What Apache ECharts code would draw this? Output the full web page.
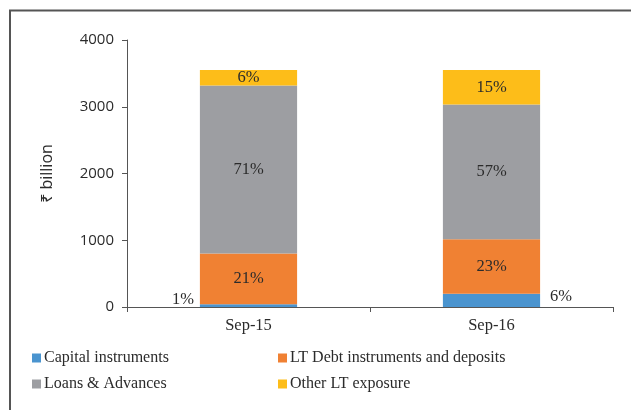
<!DOCTYPE html>
<html>
<head>
<meta charset="utf-8">
<script src="https://cdn.jsdelivr.net/npm/echarts@6/dist/echarts.min.js"></script>
<style>
  html, body { margin: 0; padding: 0; background: #fff; }
  #chart { width: 631px; height: 410px; }
</style>
</head>
<body>
<div id="chart"></div>
<script>
// 数据
const categories = ['Sep-15', 'Sep-16'];
const seriesNames = ['Capital instruments', 'LT Debt instruments and deposits', 'Loans & Advances', 'Other LT exposure'];
const capitalValues = [40, 200];
const ltDebtValues = [760, 814];
const loansValues = [2520, 2020];
const otherValues = [230, 516];
const capitalShares = ['1%', '6%'];
const ltDebtShares = ['21%', '23%'];
const loansShares = ['71%', '57%'];
const otherShares = ['6%', '15%'];
const yTicks = [0, 1000, 2000, 3000, 4000];

const colors = ['#4a94cf', '#f08133', '#9d9ea2', '#fdbd19'];
const serif = '"Liberation Serif", "DejaVu Serif", serif';
const sans = '"Open Sans", "Noto Sans", sans-serif';

const chart = echarts.init(document.getElementById('chart'));

function makeSeries(idx, values, shares, capLabel) {
  return {
    name: seriesNames[idx],
    type: 'bar',
    stack: 'total',
    barWidth: '40%',
    itemStyle: { color: colors[idx] },
    data: values.map((v, i) => {
      const lbl = {
        show: true,
        formatter: shares[i],
        color: '#2b2b2b',
        fontFamily: serif,
        fontSize: 16.5
      };
      if (capLabel) {
        lbl.position = i === 0 ? 'left' : 'right';
        lbl.distance = i === 0 ? 6 : 10;
        lbl.offset = i === 0 ? [0, -6] : [0, -4];
      } else {
        lbl.position = 'inside';
      }
      return { value: v, label: lbl };
    })
  };
}

const legendText = { fontFamily: serif, fontSize: 16, color: '#2b2b2b', padding: [0, 0, 0, -2] };

const option = {
  animation: false,
  backgroundColor: '#fff',
  graphic: [
    {
      type: 'polyline',
      shape: { points: [[10, 410], [10, 10.5], [631, 10.5]] },
      style: { stroke: '#555', lineWidth: 2, fill: null }
    }
  ],
  grid: { left: 127, right: 18, top: 40, bottom: 103 },
  legend: [
    {
      data: [seriesNames[0], seriesNames[2]],
      orient: 'vertical',
      left: 27,
      top: 345,
      itemWidth: 9,
      itemHeight: 9,
      itemGap: 10,
      icon: 'rect',
      textStyle: legendText
    },
    {
      data: [seriesNames[1], seriesNames[3]],
      orient: 'vertical',
      left: 273,
      top: 345,
      itemWidth: 9,
      itemHeight: 9,
      itemGap: 10,
      icon: 'rect',
      textStyle: legendText
    }
  ],
  xAxis: {
    type: 'category',
    data: categories,
    axisLine: { lineStyle: { color: '#555', width: 1 } },
    axisTick: { show: true, length: 5, lineStyle: { color: '#555' } },
    axisLabel: { fontFamily: serif, fontSize: 16.5, color: '#2b2b2b', margin: 10 }
  },
  yAxis: {
    type: 'value',
    min: yTicks[0],
    max: yTicks[yTicks.length - 1],
    interval: 1000,
    name: '₹ billion',
    nameLocation: 'middle',
    nameGap: 72,
    nameTextStyle: { fontFamily: sans, fontSize: 16, color: '#2b2b2b' },
    axisLine: { show: true, lineStyle: { color: '#555' } },
    axisTick: { show: true, length: 5, lineStyle: { color: '#555' } },
    splitLine: { show: false },
    axisLabel: {
      fontFamily: sans,
      fontSize: 15,
      color: '#2b2b2b',
      margin: 13,
      formatter: v => String(v)
    }
  },
  series: [
    makeSeries(0, capitalValues, capitalShares, true),
    makeSeries(1, ltDebtValues, ltDebtShares, false),
    makeSeries(2, loansValues, loansShares, false),
    makeSeries(3, otherValues, otherShares, false)
  ]
};

chart.setOption(option);
</script>
</body>
</html>
